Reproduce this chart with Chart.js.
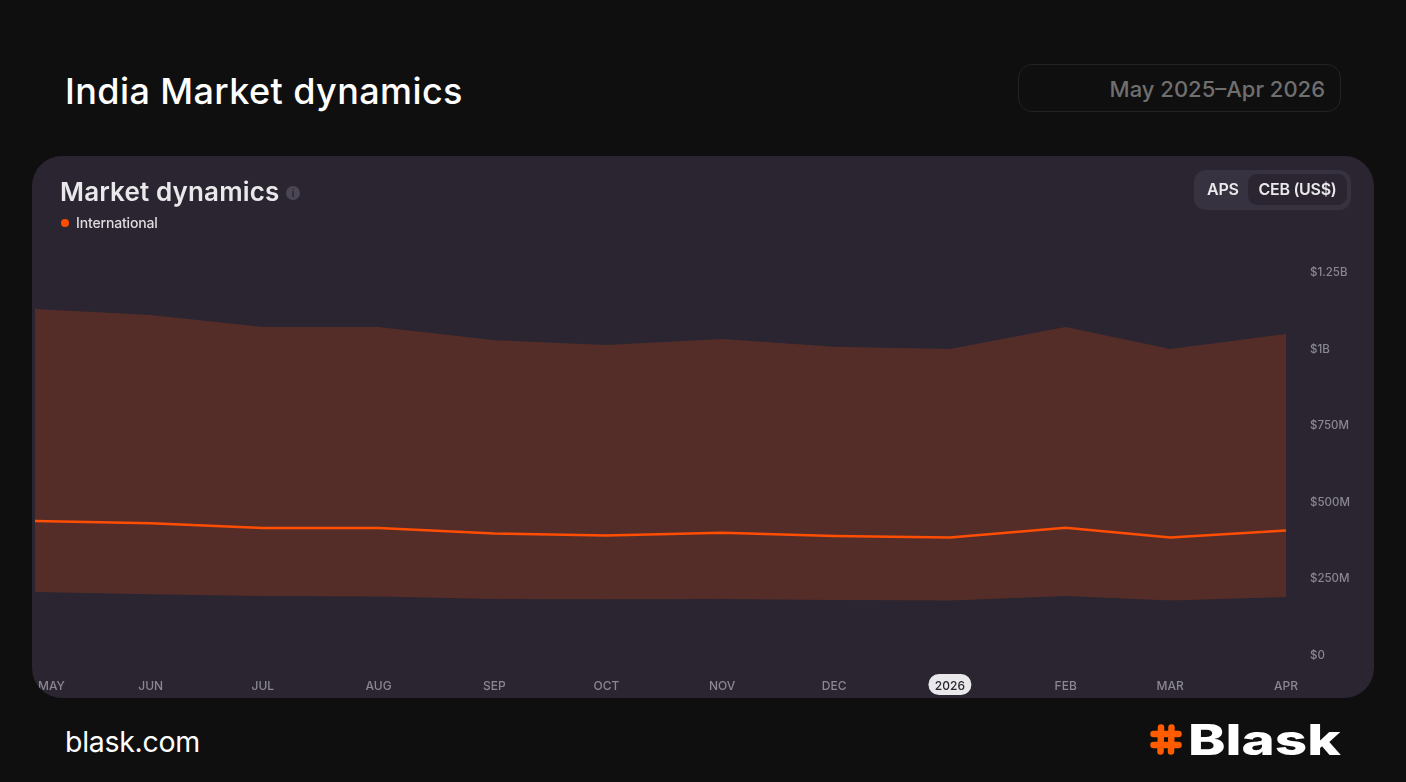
<!DOCTYPE html>
<html>
<head>
<meta charset="utf-8">
<title>India Market dynamics</title>
<script src="https://cdn.jsdelivr.net/npm/chart.js@4"></script>
<style>
  html, body { margin: 0; padding: 0; width: 1406px; height: 782px; overflow: hidden; background: #0f0f0f; font-family: Inter, sans-serif; }
  .abs { position: absolute; white-space: nowrap; }
  #head { left: 65px; top: 67px; font-size: 36px; line-height: 48px; font-weight: 500; color: #fff; letter-spacing: 0.4px; }
  #range { left: 1018px; top: 64px; width: 323px; height: 48px; box-sizing: border-box; border: 1px solid #232323; border-radius: 14px; color: #6f6f6f; font-size: 22px; font-weight: 500; line-height: 48px; text-align: right; padding-right: 15px; }
  #card { left: 32px; top: 156px; width: 1342px; height: 542px; background: #2a2530; border-radius: 30px; overflow: hidden; }
  #card canvas { position: absolute; left: 1px; top: 0; }
  #title { left: 28px; top: 19px; font-size: 26px; line-height: 34px; font-weight: 600; color: #e9e8ea; letter-spacing: 0.15px; }
  #info { left: 254px; top: 30px; width: 14px; height: 14px; border-radius: 50%; background: #4a4654; color: #2a2530; font-size: 10px; font-weight: 700; line-height: 14px; text-align: center; }
  #dot { left: 29px; top: 63px; width: 8px; height: 8px; border-radius: 50%; background: #ff4d00; }
  #legend { left: 44px; top: 58px; font-size: 14px; line-height: 18px; font-weight: 500; color: #dedce0; letter-spacing: -0.15px; }
  #toggle { left: 1162px; top: 14px; width: 157px; height: 40px; background: #363240; border-radius: 12px; }
  #aps { left: 13px; top: 0; font-size: 16px; line-height: 39px; font-weight: 600; color: #e9e8ea; letter-spacing: -0.2px; }
  #ceb { left: 54px; top: 4px; width: 99px; height: 31px; background: #2a2530; border-radius: 9px; font-size: 16px; line-height: 31px; font-weight: 600; color: #e9e8ea; text-align: center; letter-spacing: -0.3px; }
  #site { left: 65px; top: 722px; font-size: 28.5px; line-height: 40px; font-weight: 400; color: #fff; letter-spacing: -0.3px; }
  #logo { left: 1150px; top: 724px; }
  #brand { left: 1188px; top: 715px; font-size: 42px; line-height: 50px; font-weight: 800; color: #fff; transform-origin: left center; transform: scaleX(1.345); }
</style>
</head>
<body>
<div class="abs" id="head">India Market dynamics</div>
<div class="abs" id="range">May 2025–Apr 2026</div>
<div class="abs" id="card">
  <canvas id="market" width="1340" height="541"></canvas>
  <div class="abs" id="title">Market dynamics</div>
  <div class="abs" id="info">i</div>
  <div class="abs" id="dot"></div>
  <div class="abs" id="legend">International</div>
  <div class="abs" id="toggle">
    <div class="abs" id="aps">APS</div>
    <div class="abs" id="ceb">CEB (US$)</div>
  </div>
</div>
<div class="abs" id="site">blask.com</div>
<svg class="abs" id="logo" width="32" height="31" viewBox="0 0 32 31">
  <g fill="none" stroke="#ff5c00" stroke-width="6.5" stroke-linecap="round">
    <path d="M11 3.5 L10.5 27.5"/>
    <path d="M21.5 3.5 L21 27.5"/>
    <path d="M3.5 10 L28.5 10"/>
    <path d="M3.5 21 L28.5 21"/>
  </g>
</svg>
<div class="abs" id="brand">Blask</div>

<script>
// days since 1 May 2025, the axis is spaced by calendar days
const dayOffsets = [0, 31, 61, 92, 123, 153, 184, 214, 245, 276, 304, 335];
const monthLabels = ['MAY', 'JUN', 'JUL', 'AUG', 'SEP', 'OCT', 'NOV', 'DEC', '2026', 'FEB', 'MAR', 'APR'];
const yearLabel = '2026';

// US$ millions
const upperValues = [1128, 1108, 1069, 1069, 1026, 1010, 1030, 1004, 997, 1069, 997, 1046];
const midValues = [436, 428, 413, 413, 395, 388, 397, 387, 382, 414, 382, 405];
const lowerValues = [204, 197, 191, 189, 181, 180, 181, 178, 176, 191, 176, 188];

const yTickValues = [0, 250, 500, 750, 1000, 1250];
const yTickLabels = ['$0', '$250M', '$500M', '$750M', '$1B', '$1.25B'];

const toPoints = values => values.map((v, i) => ({ x: dayOffsets[i], y: v }));

// first label is pushed inside the card, and the year label gets a pill
const axisExtras = {
  id: 'axisExtras',
  afterLayout(chart) {
    const items = chart.scales.x.getLabelItems();
    if (items.length) items[0].options.translation[0] += 16.5;
    chart.scales.y.getLabelItems().forEach(item => { item.options.translation[1] += 1; });
  },
  beforeDraw(chart) {
    const x = chart.scales.x;
    const i = monthLabels.indexOf(yearLabel);
    const px = x.getPixelForValue(dayOffsets[i]);
    const ctx = chart.ctx;
    ctx.save();
    ctx.fillStyle = '#e9e8ea';
    ctx.beginPath();
    ctx.roundRect(px - 21.5, 518, 43, 21, 10.5);
    ctx.fill();
    ctx.restore();
  }
};

new Chart(document.getElementById('market'), {
  type: 'line',
  plugins: [axisExtras],
  data: {
    datasets: [{
      label: 'Upper',
      data: toPoints(upperValues),
      borderWidth: 0,
      backgroundColor: 'rgba(255, 77, 12, 0.205)',
      fill: '+2',
      pointRadius: 0,
      tension: 0
    }, {
      label: 'International',
      data: toPoints(midValues),
      borderColor: '#ff4d00',
      borderWidth: 2.5,
      fill: false,
      pointRadius: 0,
      tension: 0
    }, {
      label: 'Lower',
      data: toPoints(lowerValues),
      borderWidth: 0,
      fill: false,
      pointRadius: 0,
      tension: 0
    }]
  },
  options: {
    responsive: false,
    animation: false,
    layout: {
      autoPadding: false,
      padding: { left: 2, top: 115.5, right: 0, bottom: 0 }
    },
    plugins: {
      legend: { display: false },
      tooltip: { enabled: false }
    },
    scales: {
      x: {
        type: 'linear',
        min: dayOffsets[0],
        max: dayOffsets[dayOffsets.length - 1],
        afterFit(scale) {
          scale.height = 42.5;
          scale.paddingLeft = 0;
          scale.paddingRight = 0;
        },
        afterBuildTicks(scale) { scale.ticks = dayOffsets.map(v => ({ value: v })); },
        grid: { display: false, drawTicks: false },
        border: { display: false },
        ticks: {
          autoSkip: false,
          maxRotation: 0,
          padding: 25,
          font: { family: 'Inter', size: 12, weight: '500' },
          color: ctx => (monthLabels[ctx.index] === yearLabel ? '#2a2530' : '#8a8694'),
          callback: (v, i) => monthLabels[i]
        }
      },
      y: {
        position: 'right',
        min: 0,
        max: 1250,
        afterFit(scale) { scale.width = 87; },
        afterBuildTicks(scale) { scale.ticks = yTickValues.map(v => ({ value: v })); },
        grid: { display: false, drawTicks: false },
        border: { display: false },
        ticks: {
          padding: 24,
          font: { family: 'Inter', size: 11.5, weight: '500' },
          color: '#8a8694',
          callback: (v, i) => yTickLabels[i]
        }
      }
    }
  }
});
</script>
</body>
</html>
